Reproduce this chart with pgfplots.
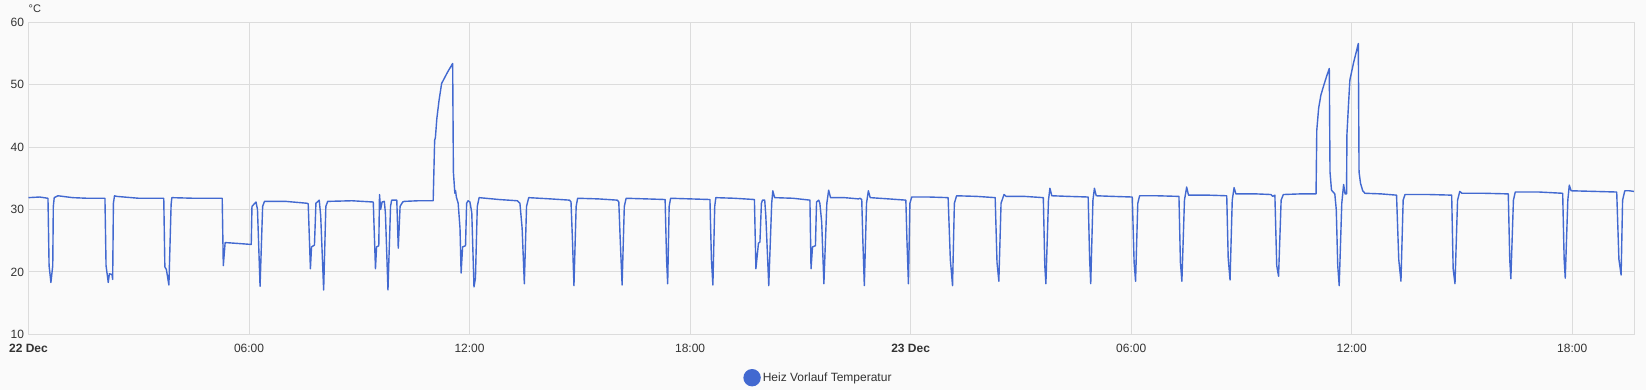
\documentclass[border=0pt]{standalone}
\usepackage{fontspec}
\setmainfont{Liberation Sans}
\usepackage{pgfplots}
\pgfplotsset{compat=1.18}
\definecolor{linec}{HTML}{4269D0}
\definecolor{bgc}{HTML}{FAFAFA}
\definecolor{gridc}{HTML}{DCDCDC}
\definecolor{txt}{HTML}{333333}
\begin{document}
\begin{tikzpicture}
\fill[bgc] (-28.5pt,-55.7pt) rectangle (1617.5pt,334.3pt);
\begin{axis}[
  at={(0pt,0pt)}, anchor=south west,
  scale only axis, width=1606.2pt, height=312pt,
  xmin=0, xmax=43.70, ymin=10, ymax=60,
  axis line style={gridc, line width=0.8pt},
  grid=major, major grid style={gridc, line width=0.8pt},
  major tick length=0pt,
  xtick={0,6,...,42},
  xticklabels={\textbf{22 Dec},06:00,12:00,18:00,\textbf{23 Dec},06:00,12:00,18:00},
  ytick={10,20,...,60},
  /pgf/number format/assume math mode=true,
  tick label style={font=\fontsize{12}{14}\selectfont, text=txt},
  xticklabel style={yshift=-6.5pt},
  yticklabel style={xshift=-1pt},
  ylabel={°C},
  every axis y label/.style={at={(rel axis cs:0,1)}, anchor=south west, inner sep=0pt, yshift=9.6pt, font=\fontsize{11}{13}\selectfont, text=txt},
  legend style={at={(axis description cs:0.4918,0)}, anchor=center, yshift=-43.4pt, draw=none, fill=none, font=\fontsize{12}{14}\selectfont, text=txt},
  legend image code/.code={\fill[linec] (0pt,0pt) circle (8pt);},
]
\addplot[linec, line width=1.4pt, line join=round] coordinates {
(0.00,31.9) (0.30,32.0) (0.53,31.8) (0.56,21.0) (0.61,18.3) (0.66,21.0) (0.675,30.5) (0.70,31.9) (0.80,32.2) (1.2,31.9) (1.6,31.8)
(2.08,31.8) (2.11,21.0) (2.17,18.3) (2.20,19.7) (2.27,19.6) (2.29,18.8) (2.31,31.0) (2.34,32.2) (2.40,32.1) (3.0,31.8)
(3.68,31.8) (3.71,20.8) (3.75,20.4) (3.82,17.9) (3.88,30.8) (3.90,31.9) (4.5,31.8)
(5.27,31.8) (5.30,21.0) (5.35,24.7) (5.6,24.6) (6.06,24.4) (6.08,30.5) (6.19,31.2) (6.23,30.0) (6.30,17.7) (6.37,30.5) (6.42,31.3) (7.0,31.3)
(7.58,31.0) (7.61,30.9) (7.67,20.5) (7.70,24.0) (7.78,24.3) (7.82,31.0) (7.91,31.5) (7.95,29.0) (8.03,17.1) (8.09,30.5) (8.14,31.3) (8.8,31.4)
(9.38,31.2) (9.44,20.5) (9.47,24.0) (9.53,24.2) (9.55,32.4) (9.58,30.0) (9.62,31.2) (9.68,31.3) (9.71,29.5) (9.78,17.1) (9.85,30.5) (9.88,31.5)
(10.02,31.5) (10.06,23.8) (10.11,30.5) (10.18,31.2) (10.22,31.3) (10.6,31.4)
(11.01,31.4) (11.05,41.1) (11.07,41.5) (11.11,44.6) (11.17,47.5) (11.24,50.2) (11.40,52.0) (11.54,53.4) (11.56,36.0) (11.60,32.6) (11.62,33.0) (11.64,32.0)
(11.69,31.0) (11.74,27.0) (11.77,19.8) (11.81,24.0) (11.89,24.2) (11.92,31.0) (11.96,31.4) (12.01,31.2) (12.06,29.5) (12.12,17.6) (12.16,19.0) (12.21,30.5) (12.26,31.9) (12.8,31.6)
(13.30,31.4) (13.37,31.0) (13.43,27.0) (13.49,18.1) (13.55,30.5) (13.61,31.9) (14.2,31.7)
(14.72,31.5) (14.76,31.2) (14.80,25.0) (14.84,17.8) (14.90,30.5) (14.94,31.8) (15.5,31.7)
(16.02,31.5) (16.06,31.2) (16.10,25.0) (16.15,17.9) (16.21,30.5) (16.26,31.8) (16.8,31.7)
(17.32,31.6) (17.36,22.0) (17.39,18.1) (17.43,30.5) (17.47,31.8) (18.0,31.7)
(18.54,31.6) (18.58,22.0) (18.62,17.9) (18.67,30.5) (18.70,31.9) (19.2,31.8)
(19.75,31.6) (19.79,20.5) (19.86,24.6) (19.90,24.8) (19.94,31.0) (19.97,31.5) (20.03,31.5) (20.06,29.0) (20.14,17.8) (20.22,31.0) (20.25,33.0) (20.30,31.9) (20.8,31.8)
(21.26,31.5) (21.29,20.5) (21.33,24.0) (21.41,24.2) (21.44,31.2) (21.50,31.5) (21.53,31.0) (21.58,28.0) (21.64,18.1) (21.72,31.0) (21.77,33.1) (21.82,31.9) (22.2,31.9)
(22.58,31.7) (22.62,31.8) (22.67,31.6) (22.70,25.0) (22.74,17.8) (22.80,31.0) (22.85,33.0) (22.90,31.9) (23.4,31.7)
(23.87,31.5) (23.90,25.0) (23.94,18.1) (23.98,31.0) (24.03,32.0) (24.5,32.0)
(25.02,31.9) (25.08,22.0) (25.14,17.8) (25.19,31.0) (25.25,32.2) (25.8,32.1)
(26.30,31.9) (26.35,21.5) (26.40,18.5) (26.46,31.0) (26.54,32.4) (26.6,32.1) (27.1,32.1)
(27.61,31.9) (27.65,21.0) (27.68,18.1) (27.75,31.5) (27.79,33.4) (27.84,32.2) (28.3,32.1)
(28.83,32.0) (28.87,22.0) (28.90,18.1) (28.96,31.5) (29.00,33.4) (29.05,32.2) (29.5,32.1)
(30.03,32.0) (30.08,21.5) (30.12,18.5) (30.18,31.0) (30.23,32.2) (30.7,32.2)
(31.30,32.1) (31.34,21.5) (31.38,18.5) (31.45,31.5) (31.51,33.6) (31.56,32.3) (32.1,32.3)
(32.60,32.2) (32.64,22.2) (32.69,18.7) (32.75,31.5) (32.80,33.5) (32.85,32.5) (33.4,32.5)
(33.80,32.4) (33.85,32.1) (33.91,32.3) (33.96,21.0) (34.01,19.3) (34.08,31.5) (34.14,32.4) (34.6,32.5)
(35.03,32.5) (35.05,42.7) (35.10,46.2) (35.16,48.3) (35.23,49.7) (35.32,51.4) (35.39,52.6) (35.41,36.0) (35.45,33.1) (35.54,32.5)
(35.58,30.0) (35.62,21.0) (35.66,17.8) (35.73,31.0) (35.78,34.0) (35.82,32.5) (35.86,32.5)
(35.87,42.0) (35.91,46.5) (35.95,50.75) (36.05,53.5) (36.18,56.6) (36.20,36.0) (36.24,34.2) (36.30,33.0) (36.36,32.6) (36.8,32.5)
(37.22,32.3) (37.28,22.0) (37.34,18.5) (37.40,31.5) (37.45,32.4) (38.1,32.4)
(38.72,32.3) (38.76,20.5) (38.81,18.1) (38.88,31.5) (38.94,32.9) (39.0,32.6) (39.6,32.6)
(40.26,32.5) (40.30,22.0) (40.33,18.9) (40.40,31.5) (40.45,32.8) (41.1,32.8)
(41.74,32.6) (41.78,22.0) (41.81,19.0) (41.88,31.5) (41.92,33.9) (41.97,33.0) (42.6,32.9)
(43.21,32.8) (43.27,22.0) (43.33,19.5) (43.37,31.5) (43.43,33.0) (43.55,33.0) (43.68,32.9)
};
\addlegendentry{Heiz Vorlauf Temperatur}
\end{axis}
\pgfresetboundingbox
\path (-28.5pt,-55.7pt) rectangle (1617.5pt,334.3pt);
\end{tikzpicture}
\end{document}
